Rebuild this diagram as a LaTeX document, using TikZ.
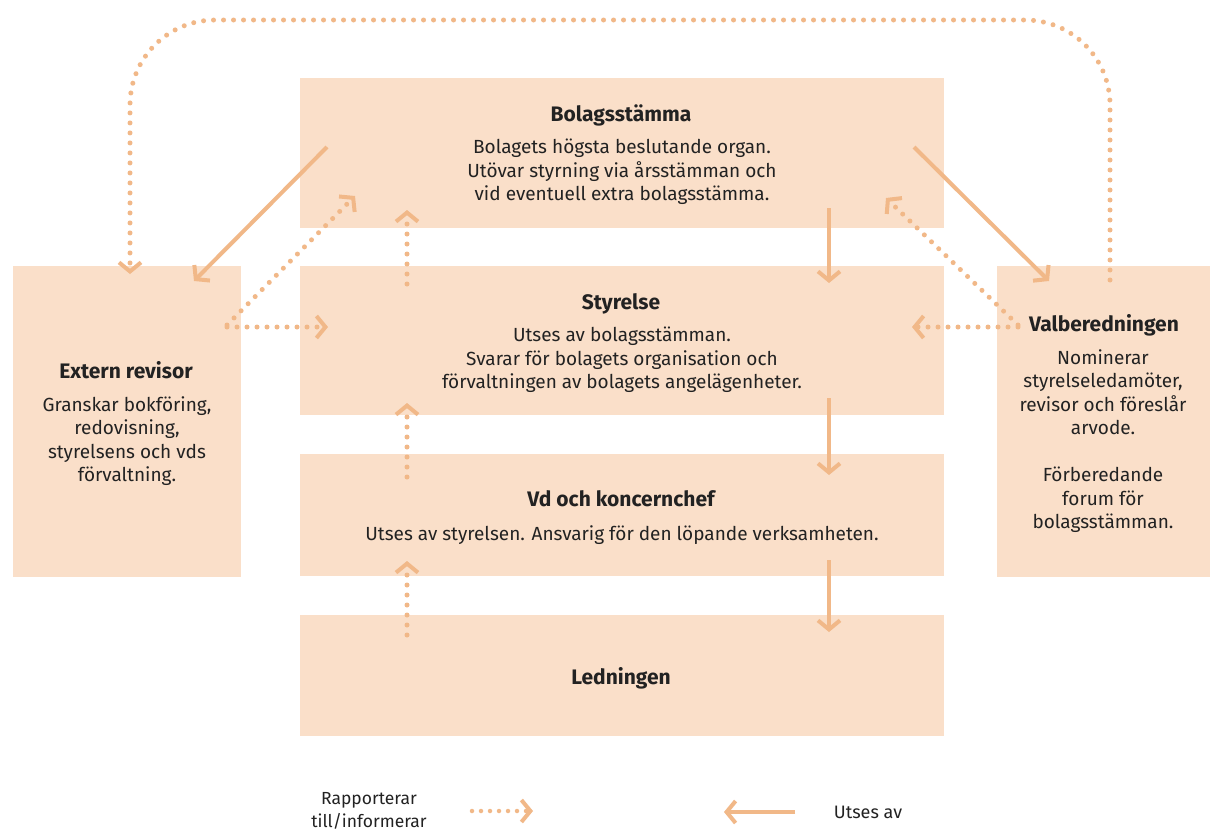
\documentclass[tikz,border=0pt]{standalone}
\usepackage{fontspec}
\setmainfont{Fira Sans}
\usetikzlibrary{arrows.meta}
\definecolor{boxfill}{HTML}{FADFC9}
\definecolor{arr}{HTML}{F1B888}
\definecolor{txt}{HTML}{222222}
\begin{document}
\begin{tikzpicture}[x=1pt,y=-1pt,
  box/.style={fill=boxfill,draw=none,inner sep=0pt,anchor=north west},
  ttl/.style={font=\fontsize{21}{24}\selectfont\bfseries,text=txt,inner sep=0pt,anchor=base},
  body/.style={font=\fontsize{19}{23.5}\selectfont,text=txt,align=center,inner sep=0pt,anchor=north},
  solidarr/.style={draw=arr,line width=4pt,-{Straight Barb[length=9pt,width=22pt,line width=4pt]}},
  dotarr/.style={draw=arr,line width=5pt,line cap=round,dash pattern=on 0pt off 10pt,
     -{Straight Barb[length=9pt,width=22pt,line width=4pt]}}
]
\useasboundingbox (0,0) rectangle (1210,830);
\fill[white] (0,0) rectangle (1210,830);

% boxes
\node[box,minimum width=644pt,minimum height=150pt] (bolag) at (300,78) {};
\node[box,minimum width=644pt,minimum height=149pt] (styr) at (300,266) {};
\node[box,minimum width=644pt,minimum height=122pt] (vd) at (300,454) {};
\node[box,minimum width=644pt,minimum height=121pt] (ledn) at (300,615) {};
\node[box,minimum width=228pt,minimum height=311pt] (ext) at (13,266) {};
\node[box,minimum width=213pt,minimum height=311pt] (valb) at (997,266) {};

% texts
\node[ttl] (tbolag) at (621,121) {Bolagsstämma};
\node[body] (bbolag) at (622,139) {Bolagets högsta beslutande organ.\\Utövar styrning via årsstämman och\\vid eventuell extra bolagsstämma.};
\node[ttl] (tstyr) at (621,309) {Styrelse};
\node[body] (bstyr) at (622,327) {Utses av bolagsstämman.\\Svarar för bolagets organisation och\\förvaltningen av bolagets angelägenheter.};
\node[ttl] (tvd) at (621,506) {Vd och koncernchef};
\node[body] (bvd) at (622,525) {Utses av styrelsen. Ansvarig för den löpande verksamheten.};
\node[ttl] (tledn) at (621,684) {Ledningen};
\node[ttl] (text) at (126,378) {Extern revisor};
\node[body] (bext) at (127,396) {Granskar bokföring,\\redovisning,\\styrelsens och vds\\förvaltning.};
\node[ttl] (tvalb) at (1104,331) {Valberedningen};
\node[body] (bvalb) at (1103,349) {Nominerar\\styrelseledamöter,\\revisor och föreslår\\arvode.\\[23.5pt]Förberedande\\forum för\\bolagsstämman.};

% anchor points
\coordinate (b1) at (829,208); \coordinate (s1) at (829,283);
\coordinate (s2) at (829,398); \coordinate (v1) at (829,475);
\coordinate (v2) at (829,560); \coordinate (l1) at (829,632);
\coordinate (su) at (407,284); \coordinate (bu) at (407,210);
\coordinate (vu) at (407,477); \coordinate (sd) at (407,403);
\coordinate (lu) at (407,635); \coordinate (vdn) at (407,561);
\coordinate (bl) at (327,147); \coordinate (el) at (194,281);
\coordinate (br) at (914,147); \coordinate (vr) at (1049,281);
\coordinate (eo) at (227,325); \coordinate (bt) at (355,196);
\coordinate (ei) at (227,327); \coordinate (st) at (328,327);
\coordinate (vo) at (1018,325); \coordinate (bt2) at (886,198);
\coordinate (vi) at (1018,327); \coordinate (st2) at (912,327);
\coordinate (vtop) at (1110,280); \coordinate (etop) at (130,274);

% solid arrows (utses av)
\draw[solidarr] (b1) -- (s1);
\draw[solidarr] (s2) -- (v1);
\draw[solidarr] (v2) -- (l1);
\draw[solidarr] (bl) -- (el);
\draw[solidarr] (br) -- (vr);

% dotted arrows (rapporterar)
\draw[dotarr] (su) -- (bu);
\draw[dotarr] (vu) -- (sd);
\draw[dotarr] (lu) -- (vdn);
\draw[dotarr] (eo) -- (bt);
\draw[dotarr] (ei) -- (st);
\draw[dotarr] (vo) -- (bt2);
\draw[dotarr] (vi) -- (st2);
\draw[dotarr,rounded corners=85pt] (vtop) -- (1110,20) -- (130,20) -- (etop);

% legend
\node[font=\fontsize{17.5}{23}\selectfont,text=txt,align=center,inner sep=0pt] (lg1) at (369,811) {Rapporterar\\till/informerar};
\coordinate (lga) at (472,811); \coordinate (lgb) at (533,811);
\draw[dotarr,line width=4.5pt,dash pattern=on 0pt off 9pt] (lga) -- (lgb);
\coordinate (lgc) at (795,812); \coordinate (lgd) at (724,812);
\draw[solidarr] (lgc) -- (lgd);
\node[font=\fontsize{18}{22}\selectfont,text=txt,inner sep=0pt] (lg2) at (868,812) {Utses av};
\end{tikzpicture}
\end{document}
